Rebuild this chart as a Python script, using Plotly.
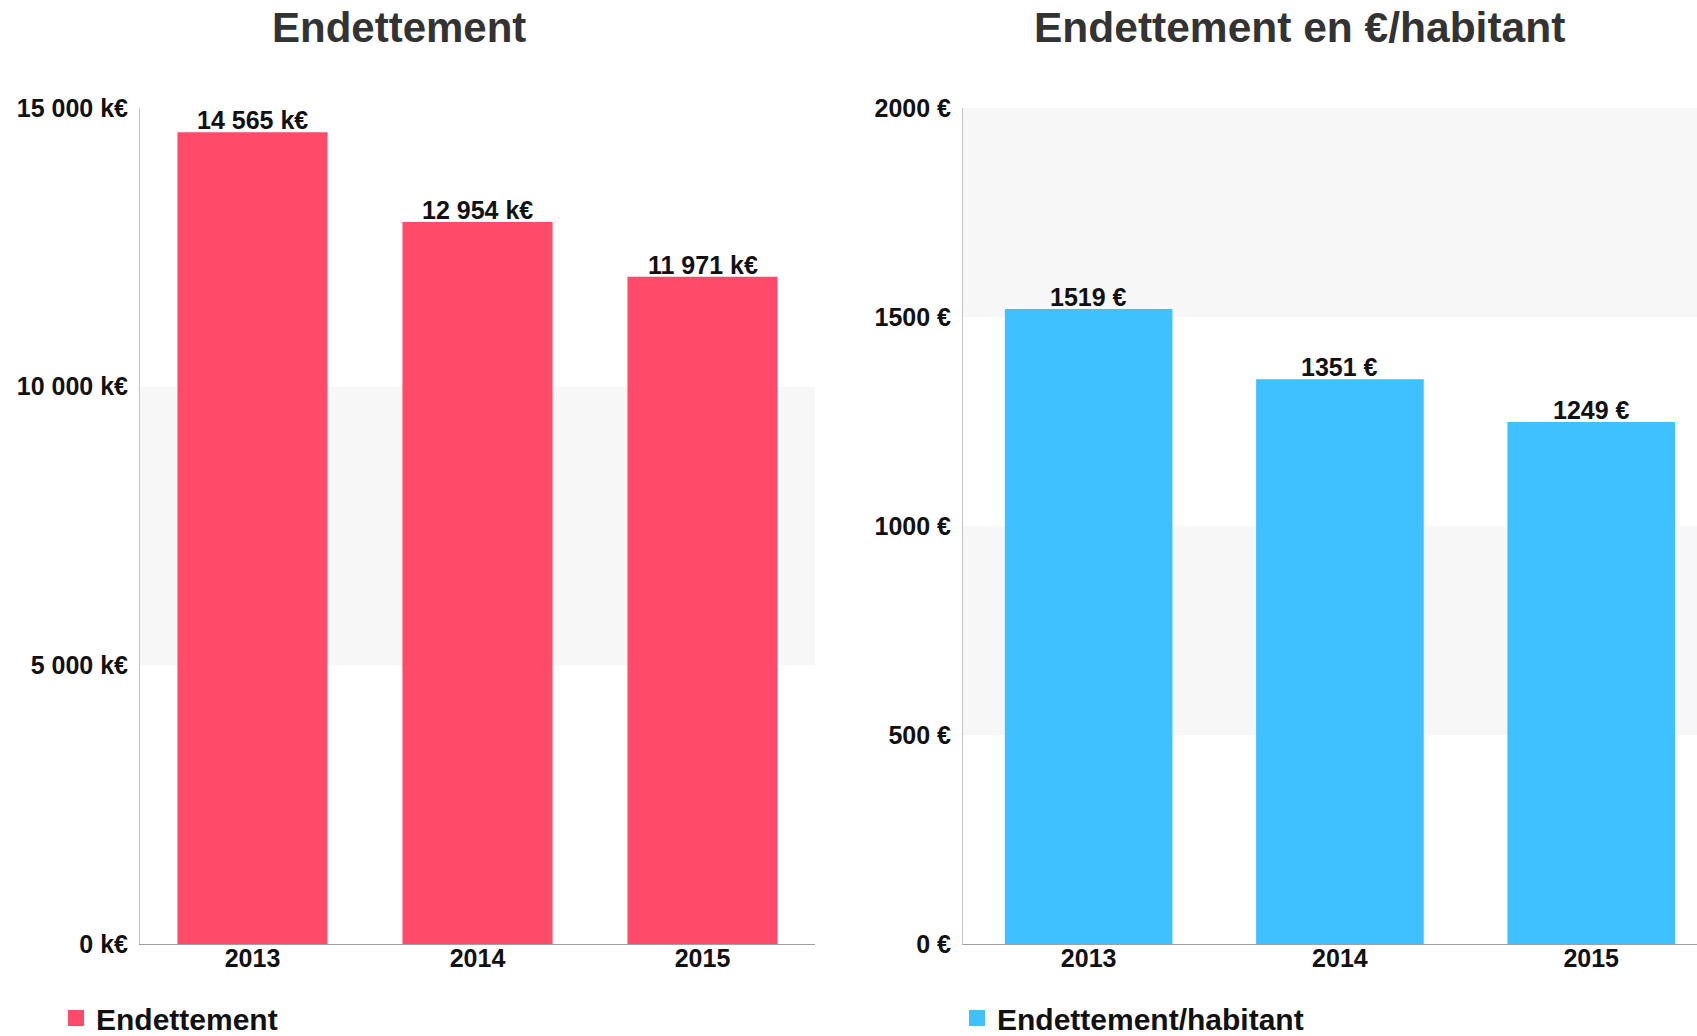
import plotly.graph_objects as go

years = ["2013", "2014", "2015"]
endettement = [14565, 12954, 11971]
par_habitant = [1519, 1351, 1249]

left_ticks = [0, 5000, 10000, 15000]
left_ticktext = ["0 k€", "5 000 k€", "10 000 k€", "15 000 k€"]
right_ticks = [0, 500, 1000, 1500, 2000]
right_ticktext = ["0 €", "500 €", "1000 €", "1500 €", "2000 €"]

left_title = "Endettement"
right_title = "Endettement en €/habitant"
left_name = "Endettement"
right_name = "Endettement/habitant"

RED = "#ff4b69"
BLUE = "#3fc0ff"
FONT = "Liberation Sans, Arial, sans-serif"

def fmt_k(v):
    return f"{v:,}".replace(",", " ") + " k€"

labelfont = dict(family=FONT, size=25, color="#111", weight="bold")

fig = go.Figure()
fig.add_trace(go.Bar(
    x=years, y=endettement, name=left_name, marker=dict(color=RED, line=dict(width=0)),
    xaxis="x", yaxis="y", showlegend=False,
))
fig.add_trace(go.Bar(
    x=years, y=par_habitant, name=right_name, marker=dict(color=BLUE, line=dict(width=0)),
    xaxis="x2", yaxis="y2", showlegend=False,
))
# legend entries (square symbols)
fig.add_trace(go.Scatter(x=[None], y=[None], mode="markers", name=left_name,
                         marker=dict(symbol="square", size=16, color=RED),
                         xaxis="x", yaxis="y", legend="legend"))
fig.add_trace(go.Scatter(x=[None], y=[None], mode="markers", name=right_name,
                         marker=dict(symbol="square", size=16, color=BLUE),
                         xaxis="x2", yaxis="y2", legend="legend2"))

annotations = []
for ys, xa, ya, labels in (
    (endettement, "x", "y", [fmt_k(v) for v in endettement]),
    (par_habitant, "x2", "y2", [f"{v} €" for v in par_habitant]),
):
    for i, (yv, lab) in enumerate(zip(ys, labels)):
        annotations.append(dict(text=lab, x=i, y=yv, xref=xa, yref=ya, showarrow=False,
                                xanchor="center", yanchor="bottom", yshift=-4,
                                font=labelfont))

# alternating background bands
for ticks, yref in ((left_ticks, "y"), (right_ticks, "y2")):
    for i in range(1, len(ticks) - 1, 2):
        fig.add_shape(type="rect", xref=yref.replace("y", "x") + " domain", yref=yref,
                      x0=0, x1=1, y0=ticks[i], y1=ticks[i + 1],
                      fillcolor="#f7f7f7", line=dict(width=0), layer="below")

tickfont = dict(family=FONT, size=25, color="#111", weight="bold")
W, H = 1697, 1036
T, B = 108, 92

xcommon = dict(type="category", showgrid=False, zeroline=False, showline=True,
               linecolor="#a0a0a0", linewidth=1, ticks="", tickfont=tickfont,
               ticklabelstandoff=-8)
ycommon = dict(showgrid=False, zeroline=False, showline=True, linecolor="#c4c4c4",
               linewidth=1, ticks="", tickfont=tickfont, ticklabelstandoff=6)

legfont = dict(family=FONT, size=30, color="#111", weight="bold")
annotations += [
    dict(text=left_title, xref="paper", yref="paper", x=399 / W, y=1 + (T - 28) / 836,
         xanchor="center", yanchor="middle", showarrow=False,
         font=dict(family=FONT, size=42, color="#333", weight="bold")),
    dict(text=right_title, xref="paper", yref="paper", x=1299 / W, y=1 + (T - 28) / 836,
         xanchor="center", yanchor="middle", showarrow=False,
         font=dict(family=FONT, size=42.5, color="#333", weight="bold")),
]

fig.update_layout(
    width=W, height=H,
    margin=dict(l=0, r=0, t=T, b=B, autoexpand=False),
    paper_bgcolor="white", plot_bgcolor="white",
    bargap=0.333,
    font=dict(family=FONT),
    xaxis=dict(domain=[140 / W, 815 / W], range=[-0.5, 2.5], anchor="y", **xcommon),
    yaxis=dict(domain=[0, 1], range=[0, 15000], tickvals=left_ticks, ticktext=left_ticktext,
               anchor="x", **ycommon),
    xaxis2=dict(domain=[963 / W, 1], range=[-0.5, 2.421], anchor="y2", **xcommon),
    yaxis2=dict(domain=[0, 1], range=[0, 2000], tickvals=right_ticks, ticktext=right_ticktext,
                anchor="x2", **ycommon),
    legend=dict(x=56 / W, y=-(1018 - 944) / 836, xanchor="left", yanchor="middle",
                font=legfont, bgcolor="rgba(0,0,0,0)", itemsizing="trace"),
    legend2=dict(x=957 / W, y=-(1018 - 944) / 836, xanchor="left", yanchor="middle",
                 font=legfont, bgcolor="rgba(0,0,0,0)", itemsizing="trace"),
    showlegend=True,
    annotations=annotations,
)

fig.write_html("out.html")
